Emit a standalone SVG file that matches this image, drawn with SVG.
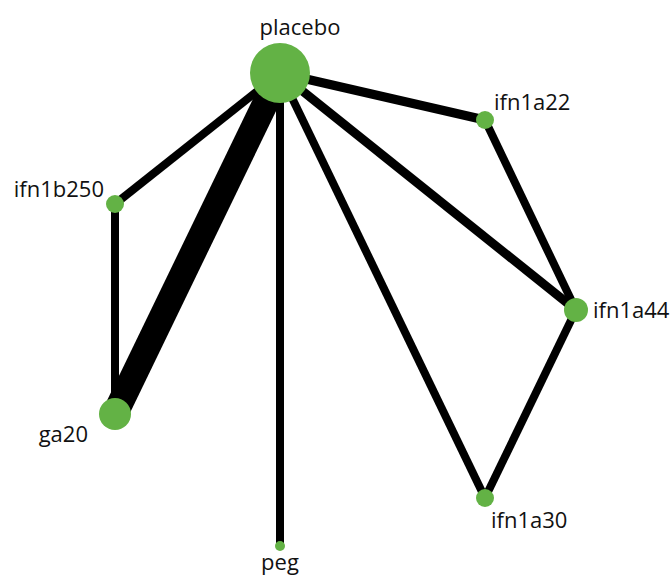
<svg xmlns="http://www.w3.org/2000/svg" width="672" height="576" viewBox="0 0 672 576">
<style>
.e{stroke:#000;fill:none}
.n{fill:#63b245}
.t{font-family:"Open Sans","Noto Sans",sans-serif;font-size:22px;fill:#111}
</style>
<rect width="672" height="576" fill="#fff"/>
<g id="edges">
<line class="e" x1="280" y1="73" x2="115" y2="414" stroke-width="26"/>
<line class="e" x1="280" y1="73" x2="485" y2="120" stroke-width="9"/>
<line class="e" x1="280" y1="73" x2="576" y2="310" stroke-width="9"/>
<line class="e" x1="280" y1="73" x2="485" y2="498" stroke-width="8"/>
<line class="e" x1="280" y1="73" x2="280" y2="546" stroke-width="8"/>
<line class="e" x1="280" y1="73" x2="115" y2="204" stroke-width="8"/>
<line class="e" x1="115" y1="204" x2="115" y2="414" stroke-width="8"/>
<line class="e" x1="485" y1="120" x2="576" y2="310" stroke-width="8"/>
<line class="e" x1="576" y1="310" x2="485" y2="498" stroke-width="8"/>
</g>
<g id="placebo"><circle class="n" cx="280" cy="73" r="30"/><text class="t" x="300" y="35" text-anchor="middle">placebo</text></g>
<g id="ifn1a22"><circle class="n" cx="485" cy="120" r="9"/><text class="t" x="494" y="110">ifn1a22</text></g>
<g id="ifn1a44"><circle class="n" cx="576" cy="310" r="12"/><text class="t" x="593" y="318">ifn1a44</text></g>
<g id="ifn1a30"><circle class="n" cx="485" cy="498" r="9"/><text class="t" x="491" y="528">ifn1a30</text></g>
<g id="peg"><circle class="n" cx="280" cy="546" r="5"/><text class="t" x="280" y="570" text-anchor="middle">peg</text></g>
<g id="ifn1b250"><circle class="n" cx="115" cy="204" r="9"/><text class="t" x="104" y="197" text-anchor="end">ifn1b250</text></g>
<g id="ga20"><circle class="n" cx="115" cy="414" r="16"/><text class="t" x="88" y="442" text-anchor="end">ga20</text></g>
</svg>
